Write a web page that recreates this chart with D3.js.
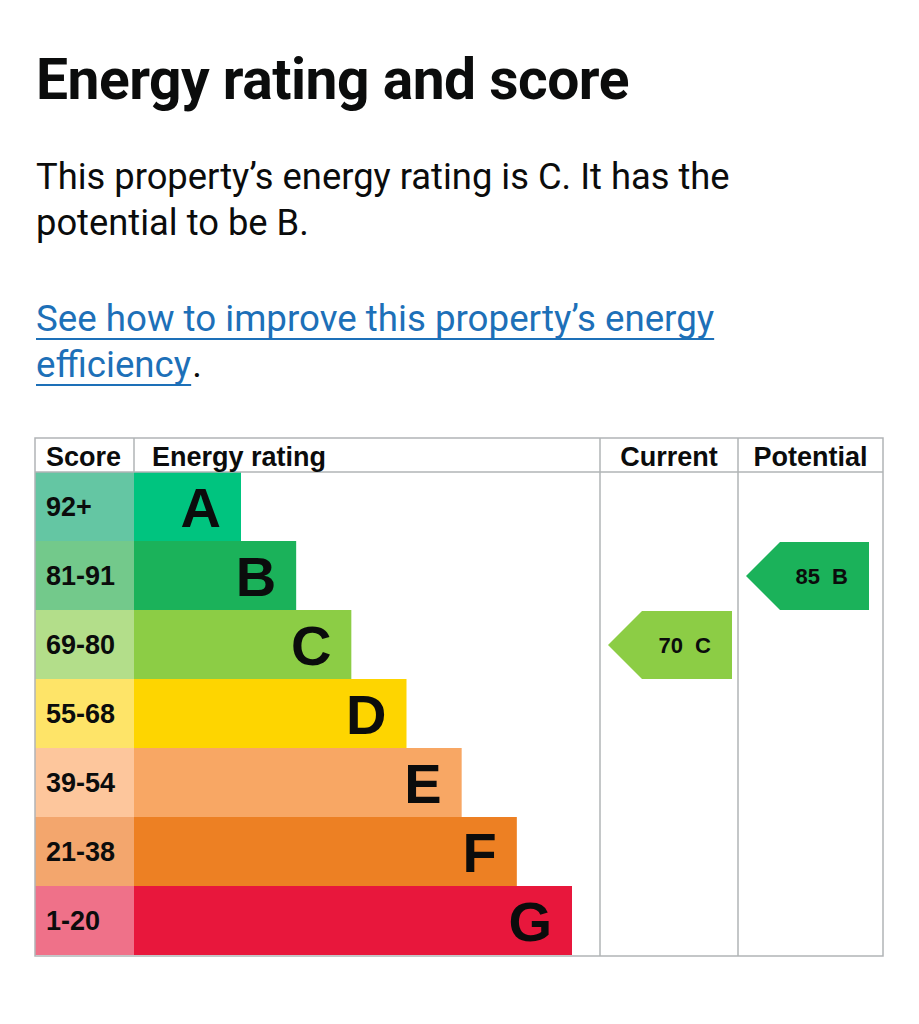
<!DOCTYPE html>
<html>
<head>
<meta charset="utf-8">
<script src="https://cdn.jsdelivr.net/npm/d3@7/dist/d3.min.js"></script>
<style>
  html, body { margin: 0; padding: 0; background: #ffffff; }
  svg { display: block; }
</style>
</head>
<body>
<svg id="chart" width="919" height="1024"></svg>
<script>
// ---------- data ----------
const bands = ["A", "B", "C", "D", "E", "F", "G"];
const scoreRanges = ["92+", "81-91", "69-80", "55-68", "39-54", "21-38", "1-20"];
const bandColors = ["#00c47f", "#1bb25a", "#8ccd45", "#fed500", "#f8a764", "#ed8023", "#e8173c"];
const scoreColors = ["#64c6a3", "#73c98b", "#b3de8a", "#fee468", "#fdc69c", "#f3a66d", "#ef7189"];
const columnHeaders = ["Score", "Energy rating", "Current", "Potential"];
const currentRating = { score: 70, band: "C" };
const potentialRating = { score: 85, band: "B" };

const titleText = "Energy rating and score";
const bodyLines = ["This property\u2019s energy rating is C. It has the", "potential to be B."];
const linkLines = ["See how to improve this property\u2019s energy", "efficiency"];

// ---------- layout ----------
const svg = d3.select("#chart");
const T = { left: 35, right: 883, top: 438, head: 472, bottom: 955 };
const colScoreEnd = 134, colRatingEnd = 600, colCurrentEnd = 738;
const gridColor = "#b1b4b6";
const tableFont = "'Liberation Sans', Arial, Helvetica, sans-serif";
const textFont = "Roboto, 'Noto Sans', sans-serif";

function fit(sel, width) {
  const w = sel.node().getComputedTextLength();
  const fs = parseFloat(sel.attr("font-size"));
  sel.attr("font-size", fs * width / w);
  return sel;
}

// ---------- heading & paragraphs ----------
fit(svg.append("text").attr("x", 36).attr("y", 99)
  .attr("font-family", textFont).attr("font-weight", 700)
  .attr("font-size", 52).attr("fill", "#0b0c0c").attr("letter-spacing", -0.5)
  .text(titleText), 592);

const bodyY = [189, 235];
let bodySize = 33;
bodyLines.forEach((t, i) => {
  const s = svg.append("text").attr("x", 36).attr("y", bodyY[i])
    .attr("font-family", textFont).attr("font-weight", 400)
    .attr("font-size", bodySize).attr("fill", "#0b0c0c").text(t);
  if (i === 0) { fit(s, 694); bodySize = s.attr("font-size"); }
});

const linkY = [331, 377];
let linkSize = bodySize;
linkLines.forEach((t, i) => {
  const s = svg.append("text").attr("x", 36).attr("y", linkY[i])
    .attr("font-family", textFont).attr("font-weight", 400)
    .attr("font-size", linkSize).attr("fill", "#1d70b8").text(t);
  if (i === 0) { fit(s, 678); linkSize = s.attr("font-size"); }
  const w = s.node().getComputedTextLength();
  svg.append("line").attr("x1", 36).attr("x2", 36 + w)
    .attr("y1", linkY[i] + 8).attr("y2", linkY[i] + 8)
    .attr("stroke", "#1d70b8").attr("stroke-width", 2);
  if (i === 1) {
    svg.append("text").attr("x", 36 + w + 1).attr("y", linkY[i])
      .attr("font-family", textFont).attr("font-size", linkSize)
      .attr("fill", "#0b0c0c").text(".");
  }
});

// ---------- scales ----------
const y = d3.scaleBand().domain(bands).range([T.head, T.bottom]).padding(0);
const barEnd = d3.scaleLinear().domain([0, bands.length - 1]).range([241, 572]);

const g = svg.append("g");

// score cells
g.selectAll("rect.score").data(bands).join("rect")
  .attr("class", "score")
  .attr("x", T.left).attr("y", d => y(d))
  .attr("width", colScoreEnd - T.left).attr("height", y.bandwidth())
  .attr("fill", (d, i) => scoreColors[i]);

g.selectAll("text.score").data(bands).join("text")
  .attr("class", "score")
  .attr("x", 46).attr("y", d => y(d) + y.bandwidth() / 2 + 9)
  .attr("font-family", tableFont).attr("font-weight", 700).attr("font-size", 27)
  .attr("fill", "#0b0c0c")
  .text((d, i) => scoreRanges[i]);

// rating bars
g.selectAll("rect.bar").data(bands).join("rect")
  .attr("class", "bar")
  .attr("x", colScoreEnd).attr("y", d => y(d))
  .attr("width", (d, i) => barEnd(i) - colScoreEnd).attr("height", y.bandwidth())
  .attr("fill", (d, i) => bandColors[i]);

g.selectAll("text.bar").data(bands).join("text")
  .attr("class", "bar")
  .attr("x", (d, i) => barEnd(i) - 20)
  .attr("y", d => y(d) + y.bandwidth() / 2 + 20)
  .attr("text-anchor", "end")
  .attr("font-family", tableFont).attr("font-weight", 700).attr("font-size", 56)
  .attr("fill", "#0b0c0c")
  .text(d => d);

// arrows
function arrow(rating, x0, x1) {
  const i = bands.indexOf(rating.band);
  const top = y(rating.band) + 1, bot = y(rating.band) + y.bandwidth();
  const mid = (top + bot) / 2, tip = 34;
  g.append("path")
    .attr("d", `M${x0},${mid}L${x0 + tip},${top}L${x1},${top}L${x1},${bot}L${x0 + tip},${bot}Z`)
    .attr("fill", bandColors[i]);
  g.append("text")
    .attr("x", x1 - 21).attr("y", mid + 8)
    .attr("text-anchor", "end").attr("xml:space", "preserve")
    .style("white-space", "pre")
    .attr("font-family", tableFont).attr("font-weight", 700).attr("font-size", 22)
    .attr("fill", "#0b0c0c")
    .text(`${rating.score}  ${rating.band}`);
}
arrow(currentRating, colRatingEnd + 8, colCurrentEnd - 6);
arrow(potentialRating, colCurrentEnd + 8, T.right - 14);

// grid
const grid = svg.append("g").attr("stroke", gridColor).attr("stroke-width", 1.5).attr("fill", "none");
grid.append("rect").attr("x", T.left).attr("y", T.top)
  .attr("width", T.right - T.left).attr("height", T.bottom - T.top + 1);
grid.append("line").attr("x1", T.left).attr("x2", T.right).attr("y1", T.head).attr("y2", T.head);
grid.append("line").attr("x1", colScoreEnd).attr("x2", colScoreEnd).attr("y1", T.top).attr("y2", T.head);
[colRatingEnd, colCurrentEnd].forEach(x => grid.append("line")
  .attr("x1", x).attr("x2", x).attr("y1", T.top).attr("y2", T.bottom + 1));

// headers
const headerX = [46, 152, (colRatingEnd + colCurrentEnd) / 2, (colCurrentEnd + T.right) / 2];
const headerAnchor = ["start", "start", "middle", "middle"];
svg.selectAll("text.head").data(columnHeaders).join("text")
  .attr("class", "head")
  .attr("x", (d, i) => headerX[i]).attr("y", 466)
  .attr("text-anchor", (d, i) => headerAnchor[i])
  .attr("font-family", tableFont).attr("font-weight", 700).attr("font-size", 27)
  .attr("fill", "#0b0c0c")
  .text(d => d);
</script>
</body>
</html>
